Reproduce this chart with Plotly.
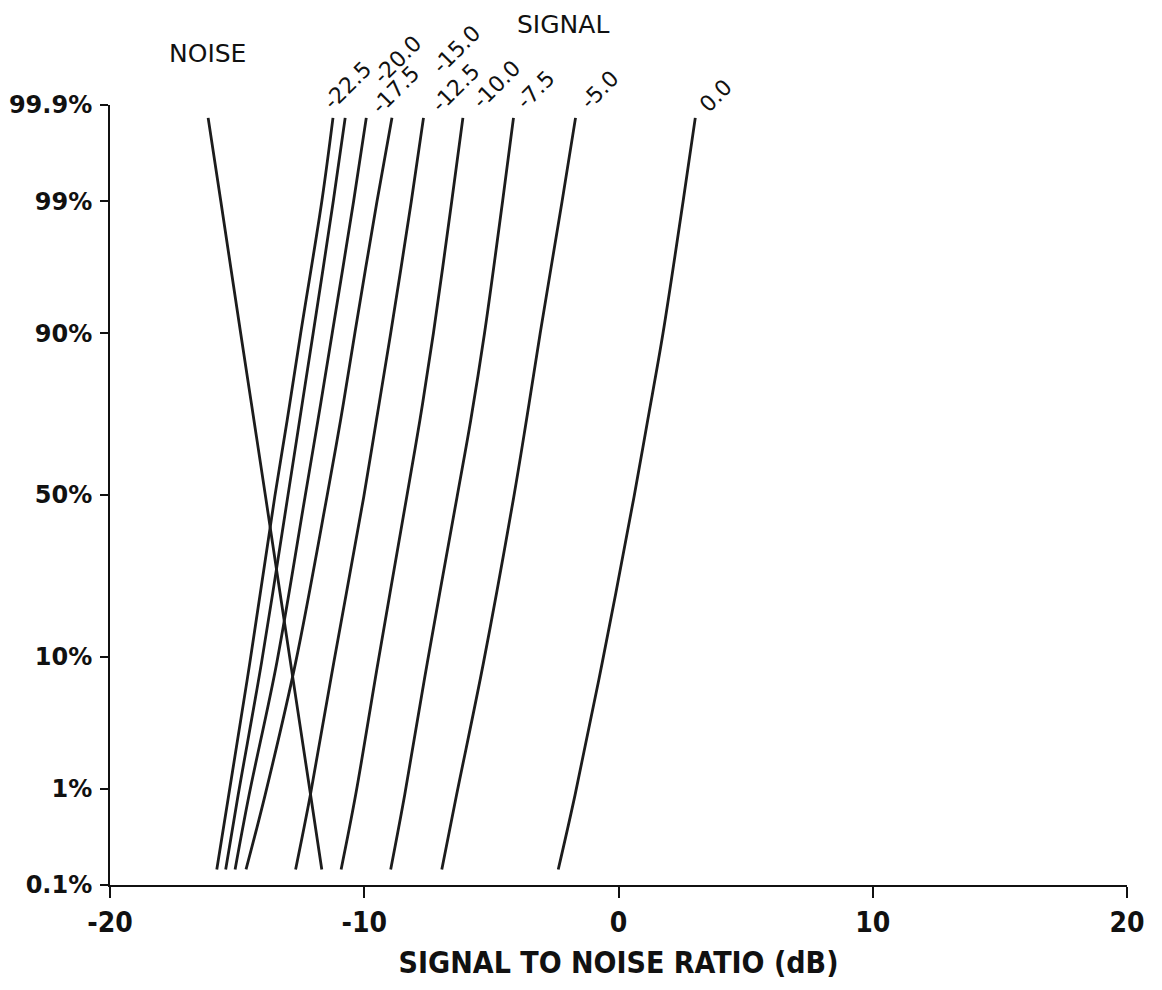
from statistics import NormalDist
import plotly.graph_objects as go

# ---------------- data ----------------
# cumulative probability levels (%) at which each curve was read
PROB_LEVELS_PCT = [0.15, 0.87, 9.2, 49.4, 72.4, 90, 99, 99.86]

# signal-to-noise ratio (dB) of each curve at those probability levels
NOISE_DB = [-11.67, -12.11, -12.90, -13.88, -14.34, -14.86, -15.64, -16.14]
SIG_M22_5_DB = [-15.80, -15.33, -14.50, -13.52, -13.03, -12.50, -11.67, -11.23]
SIG_M20_0_DB = [-15.45, -14.96, -14.04, -13.01, -12.54, -12.01, -11.22, -10.75]
SIG_M17_5_DB = [-15.08, -14.53, -13.44, -12.33, -11.82, -11.26, -10.42, -9.92]
SIG_M15_0_DB = [-14.65, -13.90, -12.70, -11.47, -10.93, -10.37, -9.50, -8.91]
SIG_M12_5_DB = [-12.70, -12.12, -11.20, -10.02, -9.52, -8.96, -8.15, -7.67]
SIG_M10_0_DB = [-10.91, -10.34, -9.46, -8.33, -7.81, -7.28, -6.56, -6.12]
SIG_M7_5_DB = [-8.96, -8.41, -7.52, -6.35, -5.81, -5.27, -4.56, -4.13]
SIG_M5_0_DB = [-6.95, -6.37, -5.31, -4.12, -3.62, -3.08, -2.22, -1.69]
SIG_0_0_DB = [-2.37, -1.71, -0.64, 0.61, 1.15, 1.75, 2.54, 3.02]

SIGNAL_LABELS = ["-22.5", "-20.0", "-17.5", "-15.0", "-12.5", "-10.0", "-7.5", "-5.0", "0.0"]
SIGNAL_SERIES = [SIG_M22_5_DB, SIG_M20_0_DB, SIG_M17_5_DB, SIG_M15_0_DB, SIG_M12_5_DB,
                 SIG_M10_0_DB, SIG_M7_5_DB, SIG_M5_0_DB, SIG_0_0_DB]

Y_TICK_PCT = [0.1, 1, 10, 50, 90, 99, 99.9]
Y_TICK_TEXT = ["0.1%", "1%", "10%", "50%", "90%", "99%", "99.9%"]
X_TICKS = [-20, -10, 0, 10, 20]

# ---------------- styling / layout ----------------
# label offsets in pixels from each line's top end (layout only)
LABEL_SHIFT_X = [-16, 22, -1, 34, 2, 3, -3, -1, -2]
LABEL_SHIFT_Y = [2, 28, -2, 38, 0, 3, 3, 3, 0]

nd = NormalDist()
def probit(pct):
    return nd.inv_cdf(pct / 100.0)

z_levels = [probit(p) for p in PROB_LEVELS_PCT]
y_tickvals = [probit(p) for p in Y_TICK_PCT]

LINE_COLOR = "#1c1c1c"
LABEL_FONT = dict(family="DejaVu Sans, Arial, sans-serif", size=22, color="#111")
HEAD_FONT = dict(family="DejaVu Sans, Arial, sans-serif", size=25, color="#111")
COND_FONT = "DejaVu Sans Condensed, Liberation Sans Narrow, sans-serif"
LINE_STYLE = dict(color=LINE_COLOR, width=2.8, shape="spline", smoothing=1.0)

fig = go.Figure()

fig.add_trace(go.Scatter(x=NOISE_DB, y=z_levels, mode="lines", showlegend=False,
                         hoverinfo="skip", line=LINE_STYLE))

for series in SIGNAL_SERIES:
    fig.add_trace(go.Scatter(x=series, y=z_levels, mode="lines", showlegend=False,
                             hoverinfo="skip", line=LINE_STYLE))

annotations = []
for lab, series, dx, dy in zip(SIGNAL_LABELS, SIGNAL_SERIES, LABEL_SHIFT_X, LABEL_SHIFT_Y):
    annotations.append(dict(
        x=series[-1], y=z_levels[-1], xref="x", yref="y", text=lab,
        showarrow=False, textangle=-45, xanchor="left", yanchor="bottom",
        xshift=dx, yshift=dy, font=LABEL_FONT, borderpad=0))

annotations.append(dict(x=0.0959, y=1.0654, xref="paper", yref="paper", text="NOISE",
                        showarrow=False, xanchor="center", yanchor="middle", font=HEAD_FONT))
annotations.append(dict(x=0.4454, y=1.1244, xref="paper", yref="paper", text="SIGNAL",
                        showarrow=False, xanchor="center", yanchor="top", font=HEAD_FONT))

ymin = y_tickvals[0] - 0.0005
ymax = y_tickvals[-1] + 0.0005

fig.update_layout(
    width=1154, height=982,
    margin=dict(l=102, r=35, t=97, b=105, pad=0),
    paper_bgcolor="white", plot_bgcolor="white",
    annotations=annotations,
    xaxis=dict(
        range=[-20, 20], tickvals=X_TICKS, ticktext=[str(v) for v in X_TICKS],
        automargin=False,
        showgrid=False, zeroline=False, showline=True, linecolor="#111", linewidth=2,
        ticks="outside", ticklen=11, tickwidth=2, tickcolor="#111",
        tickfont=dict(family=COND_FONT, size=28, color="#111", weight=700),
        title=dict(text="SIGNAL TO NOISE RATIO (dB)", standoff=14,
                   font=dict(family=COND_FONT, size=30, color="#111", weight=700)),
    ),
    yaxis=dict(
        range=[ymin, ymax], tickvals=y_tickvals, ticktext=Y_TICK_TEXT,
        automargin=False,
        showgrid=False, zeroline=False, showline=True, linecolor="#111", linewidth=2,
        ticks="outside", ticklen=8, tickwidth=2, tickcolor="#111",
        ticklabelstandoff=3,
        tickfont=dict(family="DejaVu Sans, Arial, sans-serif", size=24, color="#111", weight=700),
    ),
)

fig.write_html("out.html")
